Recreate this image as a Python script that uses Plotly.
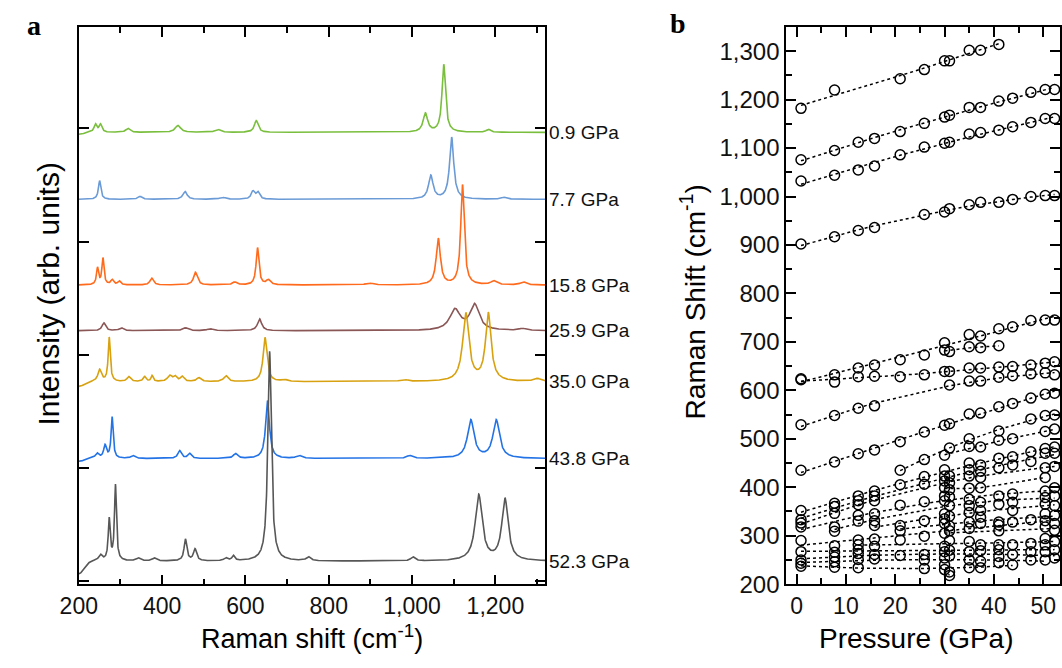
import numpy as np
import plotly.graph_objects as go

# ================= Panel a : Raman spectra (peak list) =================
spectrum_labels = ["0.9 GPa", "7.7 GPa", "15.8 GPa", "25.9 GPa", "35.0 GPa", "43.8 GPa", "52.3 GPa"]
spectrum_colors = ["#79be3c", "#6b9bd6", "#ff6a1c", "#8a5656", "#d8a10f", "#2373e6", "#575757"]
baseline_offsets = [461, 392.7, 305.3, 258.7, 206.7, 128.3, 23.7]
left_edge_dip = [-2, 0, 0, 0, -5, -3, -13]

# peaks: position (cm-1), height (arb.), half width (cm-1)
p09_pos = [240, 252, 318, 438, 534, 626, 1032, 1076, 1183]
p09_hgt = [8, 8, 4, 7, 3, 12, 19, 69, 3]
p09_wid = [4, 4, 6, 8, 8, 5.5, 6.5, 5, 6]

p77_pos = [250, 347, 455, 545, 618, 630, 1045, 1095, 1221]
p77_hgt = [19, 3, 8, 2, 8, 7, 24, 63, 2]
p77_wid = [3.5, 6, 6, 8, 5, 5, 6.5, 6, 8]

p158_pos = [245, 258, 280, 297, 375, 480, 574, 629, 655, 897, 1063, 1121, 1196, 1267]
p158_hgt = [17, 27, 5, 4, 7, 13, 3, 38, 5, 2, 47, 102, 4, 3]
p158_wid = [3, 3, 4, 4, 5, 5.5, 6, 4, 6, 10, 6, 5, 8, 8]

p259_pos = [260, 302, 456, 515, 634, 1103, 1150, 1265]
p259_hgt = [8, 3, 3, 2, 12, 21, 26, 2]
p259_wid = [5, 6, 8, 8, 6, 15, 13, 10]

p350_pos = [250, 273, 320, 358, 376, 418, 431, 448, 488, 553, 647, 693, 981, 1129, 1183, 1301]
p350_hgt = [12, 45, 5, 5, 6, 6, 5, 5, 4, 6, 45, 2, 2, 69, 69, 3]
p350_wid = [5, 3, 5, 4, 3, 6, 5, 5, 6, 6, 5.5, 8, 10, 9, 8, 10]

p438_pos = [244, 263, 280, 330, 442, 466, 576, 653, 729, 994, 1141, 1202]
p438_hgt = [5, 13, 42, 3, 8, 5, 5, 59, 3, 3, 39, 39]
p438_wid = [5, 4, 3, 6, 5, 5, 6, 5.5, 8, 8, 9.5, 9.5]

p523_pos = [252, 273, 288, 343, 381, 456, 479, 553, 571, 658, 751, 1002, 1160, 1223]
p523_hgt = [6, 42, 77, 3, 3, 22, 12, 3, 5, 214, 4, 4, 67, 63]
p523_wid = [5, 2.8, 2.8, 6, 6, 4, 4.5, 5, 4, 5, 6, 6, 10, 9]

peak_sets = [
    (p09_pos, p09_hgt, p09_wid),
    (p77_pos, p77_hgt, p77_wid),
    (p158_pos, p158_hgt, p158_wid),
    (p259_pos, p259_hgt, p259_wid),
    (p350_pos, p350_hgt, p350_wid),
    (p438_pos, p438_hgt, p438_wid),
    (p523_pos, p523_hgt, p523_wid),
]

# ================= Panel b : Raman shift vs pressure =================
m01_p = [0.9, 7.7, 21.0, 25.9, 30.0, 31.0, 35.0, 37.3, 41.0]
m01_s = [1182, 1220, 1243, 1262, 1280, 1280, 1302, 1302, 1314]
m02_p = [0.9, 7.7, 12.5, 15.8, 21.0, 25.9, 30.0, 31.0, 35.0, 37.3, 41.0, 43.8, 47.5, 50.4, 52.3]
m02_s = [1076, 1095, 1112, 1120, 1134, 1151, 1164, 1168, 1184, 1184, 1197, 1203, 1215, 1221, 1221]
m03_p = [0.9, 7.7, 12.5, 15.8, 21.0, 25.9, 30.0, 31.0, 35.0, 37.3, 41.0, 43.8, 47.5, 50.4, 52.3]
m03_s = [1032, 1044, 1055, 1063, 1086, 1102, 1110, 1112, 1129, 1132, 1137, 1144, 1153, 1161, 1161]
m04_p = [0.9, 7.7, 12.5, 15.8, 25.9, 30.0, 31.0, 35.0, 37.3, 41.0, 43.8, 47.5, 50.4, 52.3]
m04_s = [902, 917, 930, 936, 963, 968, 975, 983, 988, 988, 994, 1000, 1002, 1002]
m05_p = [0.9, 7.7, 12.5, 15.8, 21.0, 25.9, 30.0, 35.0, 37.3, 41.0, 43.8, 47.5, 50.4, 52.3]
m05_s = [624, 632, 646, 652, 663, 673, 698, 715, 712, 727, 731, 744, 745, 745]
m06_p = [30.0, 31.0, 35.0, 37.3, 41.0]
m06_s = [683, 680, 690, 688, 692]
m07_p = [0.9, 7.7, 12.5, 15.8, 21.0, 25.9, 30.0, 31.0, 35.0, 37.3, 41.0, 43.8, 47.5, 50.4, 52.3]
m07_s = [622, 617, 628, 629, 628, 632, 639, 639, 646, 646, 648, 649, 652, 656, 659]
m08_p = [0.9, 7.7, 12.5, 15.8, 31.0, 35.0, 37.3, 41.0, 43.8, 47.5, 50.4, 52.3]
m08_s = [529, 548, 563, 568, 611, 619, 619, 627, 630, 634, 636, 632]
m09_p = [0.9, 7.7, 12.5, 15.8, 21.0, 25.9, 30.0, 31.0, 35.0, 37.3, 41.0, 43.8, 47.5, 50.4, 52.3]
m09_s = [435, 452, 469, 477, 494, 514, 528, 531, 551, 553, 566, 573, 584, 592, 594]
m10_p = [21.0, 25.9, 31.0, 35.0, 41.0, 47.5, 50.4, 52.3]
m10_s = [435, 457, 481, 500, 516, 541, 548, 549]
m11_p = [30.0, 35.0, 37.3, 41.0, 43.8, 50.4, 52.3]
m11_s = [466, 484, 483, 497, 500, 515, 520]
n01_p = [0.9, 7.7, 12.5, 15.8, 21.0, 25.9, 30.0, 35.0, 37.3, 41.0, 43.8, 47.5, 50.4, 52.3]
n01_s = [352, 367, 382, 392, 405, 422, 436, 450, 446, 460, 463, 473, 480, 483]
n02_p = [0.9, 7.7, 12.5, 15.8, 25.9, 30.0, 31.0, 35.0, 37.3, 41.0, 43.8, 47.5, 50.4, 52.3]
n02_s = [333, 360, 372, 382, 406, 423, 423, 436, 433, 440, 446, 453, 470, 470]
n03_p = [0.9, 7.7, 12.5, 15.8, 30.0, 31.0, 35.0, 37.3, 50.4, 52.3]
n03_s = [326, 346, 364, 372, 413, 409, 423, 420, 440, 443]
n04_p = [30.0, 31.0, 35.0, 37.3, 50.4]
n04_s = [399, 395, 398, 399, 420]
n05_p = [0.9, 7.7, 12.5, 15.8, 21.0, 25.9, 30.0, 31.0, 35.0, 37.3, 41.0, 43.8, 50.4, 52.3]
n05_s = [318, 318, 342, 345, 363, 370, 382, 380, 375, 369, 382, 386, 392, 399]
n06_p = [7.7, 12.5, 15.8, 30.0, 31.0, 35.0, 41.0, 43.8, 50.4, 52.3]
n06_s = [309, 330, 331, 372, 362, 362, 365, 369, 379, 382]
n07_p = [15.8, 21.0, 25.9, 30.0, 31.0, 35.0, 37.3, 43.8, 50.4, 52.3]
n07_s = [321, 321, 331, 345, 340, 348, 352, 352, 365, 362]
n08_p = [21.0, 30.0, 31.0, 35.0, 37.3, 41.0, 43.8, 47.5, 50.4, 52.3]
n08_s = [310, 335, 320, 328, 338, 328, 328, 333, 345, 342]
n09_p = [0.9, 7.7, 12.5, 15.8, 21.0, 25.9, 30.0, 31.0, 35.0, 37.3, 41.0, 50.4, 52.3]
n09_s = [290, 279, 291, 293, 291, 299, 325, 310, 315, 325, 322, 331, 325]
n10_p = [30.0, 41.0, 50.4, 52.3]
n10_s = [305, 310, 318, 311]
n11_p = [12.5, 15.8, 31.0, 35.0, 37.3, 41.0, 43.8, 47.5, 50.4, 52.3]
n11_s = [281, 278, 290, 288, 281, 281, 281, 284, 294, 288]
n12_p = [0.9, 7.7, 12.5, 30.0, 31.0, 35.0, 37.3, 41.0, 43.8, 47.5, 50.4, 52.3]
n12_s = [267, 266, 271, 278, 270, 267, 269, 271, 261, 267, 281, 271]
n13_p = [0.9, 7.7, 12.5, 15.8, 21.0, 25.9, 30.0, 31.0, 41.0, 50.4, 52.3]
n13_s = [250, 256, 263, 261, 259, 261, 267, 258, 257, 267, 254]
n14_p = [0.9, 7.7, 12.5, 15.8, 25.9, 30.0, 35.0, 37.3, 41.0, 47.5, 50.4]
n14_s = [243, 246, 251, 252, 250, 254, 250, 247, 244, 250, 250]
n15_p = [0.9, 7.7, 12.5, 25.9, 30.0, 31.0, 35.0, 37.3, 43.8]
n15_s = [237, 235, 234, 232, 240, 225, 234, 234, 240]
n16_p = [30.0, 31.0]
n16_s = [230, 218]

modes = [
    (m01_p, m01_s), (m02_p, m02_s), (m03_p, m03_s), (m04_p, m04_s), (m05_p, m05_s),
    (m06_p, m06_s), (m07_p, m07_s), (m08_p, m08_s), (m09_p, m09_s), (m10_p, m10_s),
    (m11_p, m11_s), (n01_p, n01_s), (n02_p, n02_s), (n03_p, n03_s), (n04_p, n04_s),
    (n05_p, n05_s), (n06_p, n06_s), (n07_p, n07_s), (n08_p, n08_s), (n09_p, n09_s),
    (n10_p, n10_s), (n11_p, n11_s), (n12_p, n12_s), (n13_p, n13_s), (n14_p, n14_s),
    (n15_p, n15_s), (n16_p, n16_s),
]

# ================= figure =================
W, H = 1062, 668
FONT = "Arial, 'Liberation Sans', sans-serif"
SERIF = "'Times New Roman', 'Liberation Serif', serif"

def px_x(p):
    return p / W

def px_y(p):
    return (H - p) / H

fig = go.Figure()

# spectra
shift_grid = np.arange(200.0, 1320.5, 0.5)
for k in range(len(spectrum_labels)):
    pos, hgt, wid = peak_sets[k]
    y = np.full_like(shift_grid, baseline_offsets[k])
    for c, h, w in zip(pos, hgt, wid):
        y += h / (1.0 + ((shift_grid - c) / w) ** 2)
    y += left_edge_dip[k] * np.exp(-((shift_grid - 200.0) / 18.0) ** 2)
    fig.add_trace(go.Scatter(x=shift_grid, y=y, mode="lines",
                             line=dict(color=spectrum_colors[k], width=1.6),
                             xaxis="x", yaxis="y", showlegend=False, hoverinfo="skip"))

# pressure-dependent modes
for p, s in modes:
    p_arr = np.array(p)
    s_arr = np.array(s)
    deg = 2 if len(p_arr) >= 5 else 1
    coef = np.polyfit(p_arr, s_arr, deg)
    xs = np.unique(p_arr)
    fig.add_trace(go.Scatter(x=xs, y=np.polyval(coef, xs), mode="lines",
                             line=dict(color="black", width=1.5, dash="3px,3px"),
                             xaxis="x2", yaxis="y2", showlegend=False, hoverinfo="skip"))
    fig.add_trace(go.Scatter(x=p_arr, y=s_arr, mode="markers",
                             marker=dict(symbol="circle-open", size=10, color="black",
                                         line=dict(width=1.5, color="black")),
                             xaxis="x2", yaxis="y2", showlegend=False, hoverinfo="skip"))

axis_common = dict(showline=True, linecolor="black", linewidth=1.8, mirror="allticks",
                   ticks="inside", tickcolor="black", tickwidth=1.5, ticklen=10,
                   showgrid=False, zeroline=False)
tick_font = dict(family=FONT, size=23, color="#111")

fig.update_layout(
    width=W, height=H,
    margin=dict(l=0, r=0, t=0, b=0),
    paper_bgcolor="white", plot_bgcolor="white",
    xaxis=dict(domain=[px_x(61), px_x(537)], range=[200, 1320], dtick=200, tick0=200,
               tickformat=",d", anchor="y", tickfont=tick_font,
               minor=dict(dtick=100, ticklen=6, tickcolor="black", tickwidth=1.5, ticks="inside"),
               **axis_common),
    yaxis=dict(domain=[px_y(596), px_y(28)], range=[0, 568], anchor="x",
               tickvals=[3, 118.5, 234, 349.5, 465], showticklabels=False,
               **axis_common),
    xaxis2=dict(domain=[px_x(782.7), 1.0], range=[-2.1, 53.4], dtick=10, tick0=0,
                anchor="y2", tickfont=tick_font,
                minor=dict(dtick=5, ticklen=6, tickcolor="black", tickwidth=1.5, ticks="inside"),
                **axis_common),
    yaxis2=dict(domain=[px_y(595.7), px_y(27.5)], range=[200, 1350], dtick=100, tick0=200,
                tickformat=",d", anchor="x2", tickfont=dict(family=FONT, size=24, color="#111"),
                minor=dict(dtick=50, ticklen=6, tickcolor="black", tickwidth=1.5, ticks="inside"),
                **axis_common),
)

ann = []
# spectrum labels
for k, lab in enumerate(spectrum_labels):
    ann.append(dict(text=lab, xref="x domain", yref="y", x=1.004, y=baseline_offsets[k],
                    xanchor="left", yanchor="middle", showarrow=False,
                    font=dict(family=FONT, size=19, color="#111")))
# panel letters
ann.append(dict(text="<b>a</b>", xref="paper", yref="paper", x=px_x(6), y=px_y(8),
                xanchor="left", yanchor="top", showarrow=False,
                font=dict(family=SERIF, size=28, color="black")))
ann.append(dict(text="<b>b</b>", xref="paper", yref="paper", x=px_x(662), y=px_y(6),
                xanchor="left", yanchor="top", showarrow=False,
                font=dict(family=SERIF, size=28, color="black")))
# axis titles
ann.append(dict(text="Raman shift (cm<sup>-1</sup>)", xref="paper", yref="paper",
                x=px_x(299), y=px_y(669), xanchor="center", yanchor="bottom", showarrow=False,
                font=dict(family=FONT, size=27, color="black")))
ann.append(dict(text="Intensity (arb. units)", xref="paper", yref="paper",
                x=px_x(30), y=px_y(300), xanchor="center", yanchor="middle", showarrow=False,
                textangle=-90, font=dict(family=FONT, size=30, color="black")))
ann.append(dict(text="Pressure (GPa)", xref="paper", yref="paper",
                x=px_x(916), y=px_y(669), xanchor="center", yanchor="bottom", showarrow=False,
                font=dict(family=FONT, size=28, color="black")))
ann.append(dict(text="Raman Shift (cm<sup>-1</sup>)", xref="paper", yref="paper",
                x=px_x(688), y=px_y(308), xanchor="center", yanchor="middle", showarrow=False,
                textangle=-90, font=dict(family=FONT, size=28, color="black")))
fig.update_layout(annotations=ann)

fig.write_html("out.html")
